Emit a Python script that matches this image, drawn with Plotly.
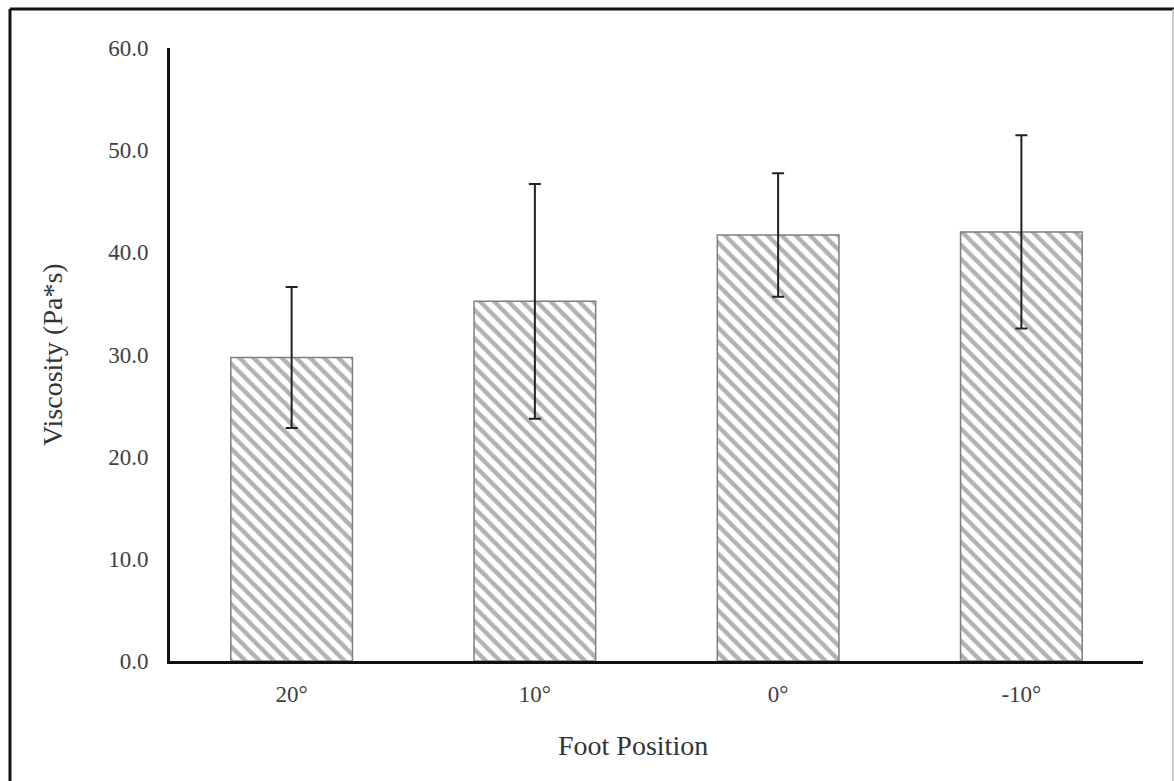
import plotly.graph_objects as go

categories = ["20°", "10°", "0°", "-10°"]
viscosity = [29.7, 35.2, 41.7, 42.0]
sd = [6.9, 11.5, 6.05, 9.45]
y_ticks = [0, 10, 20, 30, 40, 50, 60]
y_tick_labels = ["0.0", "10.0", "20.0", "30.0", "40.0", "50.0", "60.0"]

SERIF = "Liberation Serif, Times New Roman, serif"
L, R, T, B = 170, 31, 48, 120
W, H = 1174, 781
pw = W - L - R
ph = H - T - B

fig = go.Figure()
fig.add_trace(go.Bar(
    x=categories, y=viscosity, width=0.5,
    marker=dict(color="white", line=dict(color="#7f7f7f", width=1.5),
                pattern=dict(shape="\\", fgcolor="#666666", bgcolor="white", size=10, solidity=0.45)),
    error_y=dict(type="data", array=sd, visible=True, color="#222222", thickness=2, width=6),
))

fig.update_layout(
    width=W, height=H,
    margin=dict(l=L, r=R, t=T, b=B, pad=0),
    paper_bgcolor="white", plot_bgcolor="white",
    showlegend=False,
    font=dict(family=SERIF, color="#404040", size=23),
    xaxis=dict(showline=True, linecolor="#111111", linewidth=3, showgrid=False, ticks="",
               ticklabelstandoff=10, tickfont=dict(size=23, family=SERIF, color="#404040")),
    yaxis=dict(range=[0, 60], tickvals=y_ticks, ticktext=y_tick_labels, showline=True,
               linecolor="#111111", linewidth=3, showgrid=False, zeroline=False, ticks="",
               ticklabelstandoff=14, tickfont=dict(size=23, family=SERIF, color="#404040")),
)

def px_x(px):
    return (px - L) / pw

def px_y(py):
    return (H - B - py) / ph

fig.add_annotation(text="Viscosity (Pa*s)", xref="paper", yref="paper", x=px_x(52), y=px_y(355),
                   xanchor="center", yanchor="middle",
                   showarrow=False, textangle=-90, font=dict(size=28, family=SERIF, color="#333333"))
fig.add_annotation(text="Foot Position", xref="paper", yref="paper", x=px_x(633), y=px_y(745),
                   xanchor="center", yanchor="middle",
                   showarrow=False, font=dict(size=28, family=SERIF, color="#333333"))

# outer frame
fig.add_shape(type="line", xref="paper", yref="paper", x0=px_x(10), x1=px_x(10), y0=px_y(9), y1=px_y(781),
              line=dict(color="#111111", width=3))
fig.add_shape(type="line", xref="paper", yref="paper", x0=px_x(10), x1=px_x(1174), y0=px_y(9), y1=px_y(9),
              line=dict(color="#111111", width=3))
fig.add_shape(type="line", xref="paper", yref="paper", x0=px_x(1173), x1=px_x(1173), y0=px_y(9), y1=px_y(781),
              line=dict(color="#bbbbbb", width=1.5))

fig.write_html("out.html")
